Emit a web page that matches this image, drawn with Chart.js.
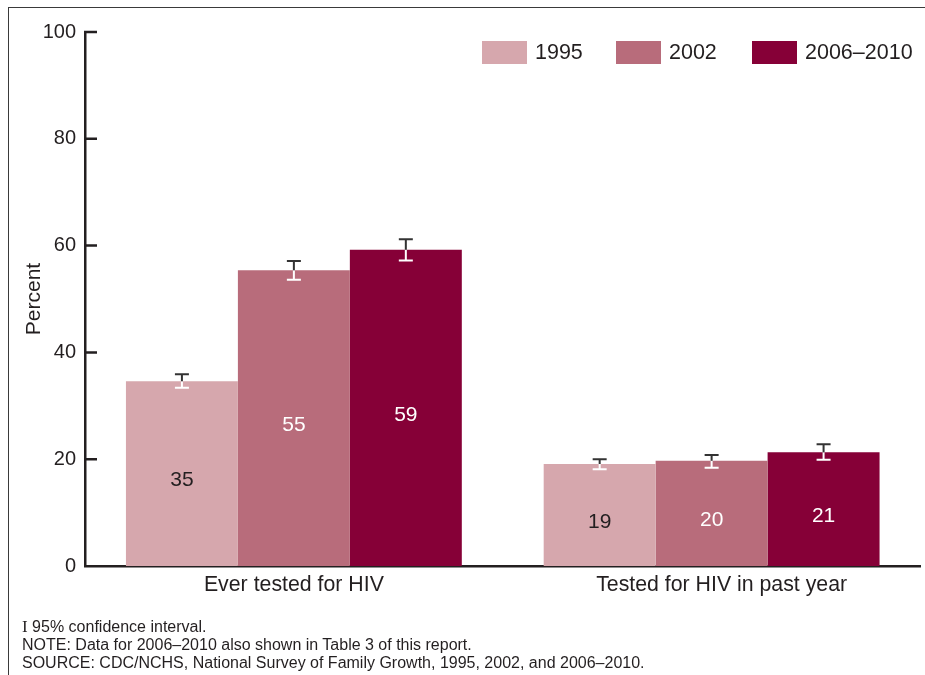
<!DOCTYPE html>
<html>
<head>
<meta charset="utf-8">
<script src="https://cdn.jsdelivr.net/npm/chart.js@4.4.1/dist/chart.umd.min.js"></script>
<style>
  html, body { margin: 0; padding: 0; background: #fff; }
  #wrap { position: relative; width: 925px; height: 675px; overflow: hidden; font-family: 'Liberation Sans', Arial, Helvetica, sans-serif; }
  #frame { position: absolute; left: 8px; top: 7px; width: 930px; height: 700px; border-left: 1.5px solid #3a3a3a; border-top: 1.5px solid #3a3a3a; }
  canvas { position: absolute; left: 0; top: 0; }
  .note { position: absolute; left: 22px; font-size: 16px; color: #231f20; white-space: nowrap; }
  .ci { font-family: 'Liberation Serif', 'DejaVu Serif', serif; font-size: 17px; }
</style>
</head>
<body>
<div id="wrap">
  <div id="frame"></div>
  <canvas id="chart" width="925" height="675"></canvas>
  <div class="note" style="top:617px"><span class="ci">I</span> 95% confidence interval.</div>
  <div class="note" style="top:636px">NOTE: Data for 2006–2010 also shown in Table 3 of this report.</div>
  <div class="note" style="top:654px">SOURCE: CDC/NCHS, National Survey of Family Growth, 1995, 2002, and 2006–2010.</div>
</div>
<script>
// data
const categories = ['Ever tested for HIV', 'Tested for HIV in past year'];
const seriesNames = ['1995', '2002', '2006–2010'];
const v1995 = [34.6, 19.1];
const v2002 = [55.4, 19.7];
const v2006 = [59.2, 21.3];
const lo1995 = [33.4, 18.1];
const hi1995 = [35.9, 20.0];
const lo2002 = [53.6, 18.4];
const hi2002 = [57.1, 20.8];
const lo2006 = [57.2, 19.9];
const hi2006 = [61.2, 22.8];
const yTicks = [0, 20, 40, 60, 80, 100];

const colors = ['#d6a7ad', '#b86c7b', '#860037'];
const labelColors = ['#231f20', '#ffffff', '#ffffff'];
const FONT = "'Liberation Sans', Arial, Helvetica, sans-serif";
const dark = '#231f20';
const xLabelShift = [0, 10];

const values = [v1995, v2002, v2006];
const lows = [lo1995, lo2002, lo2006];
const highs = [hi1995, hi2002, hi2006];

const extras = {
    id: 'extras',
    afterDatasetsDraw(chart) {
        const ctx = chart.ctx;
        const y = chart.scales.y;
        ctx.save();
        chart.data.datasets.forEach(function (ds, i) {
            const meta = chart.getDatasetMeta(i);
            meta.data.forEach(function (bar, j) {
                const x = bar.x;
                const top = y.getPixelForValue(highs[i][j]);
                const bot = y.getPixelForValue(lows[i][j]);
                const barTop = bar.y;
                // part inside bar: white
                ctx.strokeStyle = '#ffffff';
                ctx.lineWidth = 2;
                ctx.beginPath();
                ctx.moveTo(x, barTop); ctx.lineTo(x, bot);
                ctx.moveTo(x - 7, bot); ctx.lineTo(x + 7, bot);
                ctx.stroke();
                // part above bar: dark
                ctx.strokeStyle = '#333333';
                ctx.beginPath();
                ctx.moveTo(x, top); ctx.lineTo(x, barTop);
                ctx.moveTo(x - 7, top); ctx.lineTo(x + 7, top);
                ctx.stroke();
                // value label
                ctx.fillStyle = labelColors[i];
                ctx.font = '21px ' + FONT;
                ctx.textAlign = 'center';
                ctx.textBaseline = 'middle';
                ctx.fillText(Math.round(ds.data[j]), x, (barTop + bar.base) / 2 + 7);
            });
        });
        ctx.restore();
    },
    afterDraw(chart) {
        const ctx = chart.ctx;
        const y = chart.scales.y;
        const xs = chart.scales.x;
        const left = chart.chartArea.left;
        ctx.save();
        // inward tick marks
        ctx.strokeStyle = dark;
        ctx.lineWidth = 2.5;
        ctx.beginPath();
        yTicks.forEach(function (t) {
            if (t === 0) return;
            const py = y.getPixelForValue(t);
            ctx.moveTo(left - 1, py); ctx.lineTo(left + 12, py);
        });
        ctx.stroke();
        // category labels
        ctx.fillStyle = dark;
        ctx.font = '21.3px ' + FONT;
        ctx.textAlign = 'center';
        ctx.textBaseline = 'middle';
        categories.forEach(function (c, i) {
            ctx.fillText(c, xs.getPixelForTick(i) + xLabelShift[i], 585);
        });
        // legend
        const lx = [482, 616, 752];
        ctx.font = '21.5px ' + FONT;
        ctx.textAlign = 'left';
        chart.data.datasets.forEach(function (ds, i) {
            ctx.fillStyle = ds.backgroundColor;
            ctx.fillRect(lx[i], 41, 45, 23);
            ctx.fillStyle = dark;
            ctx.fillText(ds.label, lx[i] + 53, 53);
        });
        ctx.restore();
    }
};

new Chart(document.getElementById('chart'), {
    type: 'bar',
    data: {
        labels: categories,
        datasets: values.map(function (v, i) {
            return {
                label: seriesNames[i],
                data: v,
                backgroundColor: colors[i],
                borderWidth: 0,
                categoryPercentage: 0.804,
                barPercentage: 1.0
            };
        })
    },
    plugins: [extras],
    options: {
        responsive: false,
        animation: false,
        layout: { padding: { top: 32, right: 4.5, left: 0, bottom: 0 } },
        plugins: {
            legend: { display: false },
            tooltip: { enabled: false }
        },
        scales: {
            x: {
                grid: { display: false, drawTicks: false },
                border: { display: true, color: dark, width: 2.5 },
                ticks: { display: false },
                afterFit: function (s) { s.height = 109; }
            },
            y: {
                min: 0,
                max: 100,
                afterBuildTicks: function (s) { s.ticks = yTicks.map(function (v) { return { value: v }; }); },
                grid: { display: false, drawTicks: false },
                border: { display: true, color: dark, width: 2.5 },
                ticks: { color: dark, font: { family: FONT, size: 20 }, padding: 9 },
                title: { display: true, text: 'Percent', color: dark, font: { family: FONT, size: 21 }, padding: { top: 22 } },
                afterFit: function (s) { s.width = 85; }
            }
        }
    }
});
</script>
</body>
</html>
